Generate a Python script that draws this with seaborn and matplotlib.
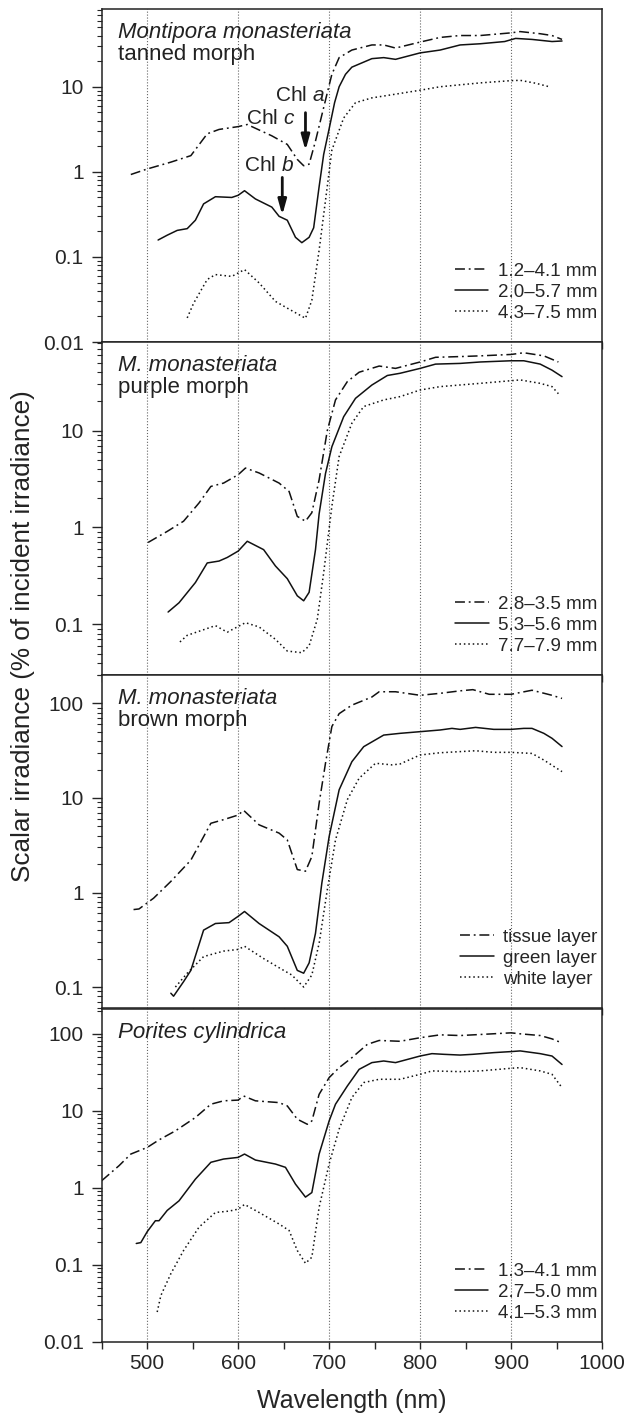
import numpy as np
import pandas as pd
import matplotlib
matplotlib.use("Agg")
import matplotlib.pyplot as plt
import matplotlib.ticker as mticker
import seaborn as sns

# wavelengths (nm) and scalar irradiance (% of incident)
# panel 1: Montipora monasteriata, tanned morph
tan_a_wl = [482, 500, 526, 548, 566, 579, 600, 610, 637, 654, 665, 672, 678, 685, 694, 703, 711, 725, 747, 760, 773, 800, 822, 844, 866, 900, 910, 932, 945, 956]
tan_a = [0.93, 1.08, 1.3, 1.55, 2.8, 3.15, 3.4, 3.6, 2.65, 2.1, 1.4, 1.18, 1.23, 2.3, 5.7, 14, 22, 27, 31, 31, 28.5, 33.5, 38, 40, 40, 43, 44.5, 42, 40, 36]
tan_b_wl = [512, 522, 533, 544, 553, 562, 575, 593, 600, 607, 619, 637, 645, 654, 663, 670, 678, 683, 689, 694, 700, 706, 711, 718, 725, 747, 760, 773, 800, 822, 844, 866, 893, 905, 923, 945, 956]
tan_b = [0.158, 0.18, 0.205, 0.215, 0.27, 0.42, 0.51, 0.5, 0.53, 0.6, 0.48, 0.385, 0.3, 0.27, 0.17, 0.147, 0.17, 0.22, 0.67, 1.6, 3.2, 6.5, 10, 14, 17, 21.4, 22, 21, 25, 27, 31, 32, 34, 37, 36, 34, 34.5]
tan_c_wl = [544, 551, 566, 575, 593, 607, 623, 641, 654, 674, 681, 689, 696, 703, 716, 729, 747, 764, 800, 822, 866, 900, 910, 927, 942]
tan_c = [0.0192, 0.0285, 0.0543, 0.062, 0.059, 0.071, 0.0495, 0.030, 0.025, 0.019, 0.031, 0.12, 0.46, 1.8, 4.3, 6.5, 7.4, 7.9, 9.1, 10, 11.1, 11.8, 11.9, 11, 10]

# panel 2: M. monasteriata, purple morph
pur_a_wl = [501, 522, 540, 557, 570, 584, 600, 608, 623, 645, 656, 665, 674, 681, 689, 698, 707, 720, 733, 755, 773, 800, 817, 844, 866, 900, 914, 936, 952]
pur_a = [0.70, 0.91, 1.16, 1.79, 2.65, 2.87, 3.5, 4.1, 3.65, 2.87, 2.35, 1.3, 1.16, 1.42, 3.1, 10, 20.7, 32, 40, 46.3, 43.8, 51, 57, 58, 59, 61, 63.5, 59, 51]
pur_b_wl = [523, 535, 553, 566, 579, 588, 600, 610, 628, 641, 654, 665, 672, 678, 685, 689, 696, 703, 716, 729, 747, 764, 778, 800, 817, 844, 866, 900, 914, 932, 945, 956]
pur_b = [0.134, 0.167, 0.27, 0.43, 0.45, 0.49, 0.57, 0.72, 0.59, 0.40, 0.296, 0.197, 0.175, 0.214, 0.59, 1.38, 3.6, 6.8, 13.9, 21.5, 29.5, 37, 39, 43.8, 48.5, 49.3, 51, 52.5, 52.5, 48.5, 42, 36]
pur_c_wl = [536, 544, 562, 575, 588, 608, 623, 641, 654, 670, 678, 687, 694, 703, 711, 725, 738, 760, 778, 800, 822, 866, 900, 910, 932, 945, 952]
pur_c = [0.0658, 0.077, 0.088, 0.097, 0.083, 0.104, 0.094, 0.070, 0.053, 0.051, 0.060, 0.113, 0.34, 1.65, 5.4, 11.9, 17.7, 20.7, 22.4, 26.2, 28.4, 30.7, 32.7, 33.3, 30.7, 28.4, 24]

# panel 3: M. monasteriata, brown morph
brn_a_wl = [485, 491, 507, 526, 548, 570, 584, 600, 606, 623, 645, 654, 665, 674, 681, 689, 696, 703, 711, 725, 747, 755, 773, 800, 822, 844, 858, 876, 900, 923, 945, 956]
brn_a = [0.66, 0.67, 0.87, 1.31, 2.2, 5.4, 5.9, 6.6, 7.4, 5.2, 4.25, 3.6, 1.75, 1.68, 2.4, 8.8, 23.3, 57, 78, 96, 117, 133, 133, 122, 128, 136, 140, 125, 125, 138, 122, 113]
brn_b_wl = [526, 529, 540, 548, 562, 575, 590, 600, 607, 623, 645, 654, 665, 672, 678, 685, 692, 700, 711, 725, 738, 760, 778, 800, 822, 835, 844, 861, 881, 900, 914, 923, 936, 945, 956]
brn_b = [0.086, 0.08, 0.114, 0.15, 0.40, 0.47, 0.48, 0.56, 0.63, 0.47, 0.34, 0.27, 0.15, 0.14, 0.18, 0.37, 1.26, 3.9, 12.2, 24.2, 34.9, 46.3, 48.3, 50.3, 52.4, 54.5, 53.2, 55.8, 53.2, 53.2, 54.5, 54.5, 48.3, 42.8, 35]
brn_c_wl = [531, 544, 562, 584, 600, 607, 628, 645, 659, 672, 681, 689, 698, 707, 720, 733, 751, 769, 778, 800, 822, 861, 881, 900, 923, 936, 956]
brn_c = [0.10, 0.14, 0.21, 0.24, 0.25, 0.27, 0.20, 0.16, 0.134, 0.10, 0.134, 0.29, 1.07, 3.6, 9.6, 16.2, 23.3, 22.4, 22.9, 28.5, 30.1, 31.6, 30.4, 30.4, 29.6, 25.2, 19]

# panel 4: Porites cylindrica
por_a_wl = [450, 469, 482, 500, 513, 531, 553, 570, 584, 600, 606, 619, 645, 654, 665, 676, 681, 689, 700, 711, 725, 742, 755, 778, 800, 822, 844, 866, 900, 910, 932, 945, 956]
por_a = [1.24, 1.94, 2.75, 3.35, 4.2, 5.5, 8.2, 12.2, 13.5, 13.8, 15.6, 13.5, 12.8, 11.6, 7.8, 6.7, 7.4, 16.4, 27.0, 36.4, 49, 73, 82, 80, 89, 97, 95, 98, 103, 100, 95, 86, 76]
por_b_wl = [488, 493, 500, 509, 513, 522, 535, 553, 570, 584, 600, 607, 619, 641, 652, 663, 674, 681, 689, 700, 707, 720, 733, 747, 760, 773, 800, 813, 826, 844, 858, 881, 900, 910, 932, 945, 956]
por_b = [0.19, 0.195, 0.27, 0.375, 0.375, 0.51, 0.68, 1.3, 2.15, 2.37, 2.49, 2.75, 2.3, 2.04, 1.85, 1.12, 0.76, 0.87, 2.75, 7.4, 12.2, 21, 34.6, 42.3, 44.4, 42.3, 51.5, 55.3, 54.2, 53, 54.2, 57, 58.8, 60, 55.3, 51.5, 40]
por_c_wl = [511, 515, 526, 540, 557, 575, 590, 600, 607, 623, 645, 656, 665, 674, 681, 689, 700, 711, 725, 738, 755, 778, 800, 813, 844, 866, 900, 910, 932, 945, 956]
por_c = [0.0245, 0.04, 0.077, 0.154, 0.31, 0.48, 0.50, 0.53, 0.61, 0.48, 0.34, 0.28, 0.154, 0.105, 0.126, 0.56, 2.05, 5.8, 14.9, 23.3, 25.7, 25.7, 29.8, 33, 32.3, 33, 35.7, 36.4, 33, 29.8, 20]

tan_labels = ["1.2–4.1 mm", "2.0–5.7 mm", "4.3–7.5 mm"]
pur_labels = ["2.8–3.5 mm", "5.3–5.6 mm", "7.7–7.9 mm"]
brn_labels = ["tissue layer", "green layer", "white layer"]
por_labels = ["1.3–4.1 mm", "2.7–5.0 mm", "4.1–5.3 mm"]

sns.set_style("ticks")
plt.rcParams['font.family'] = ['Liberation Sans', 'DejaVu Sans']
plt.rcParams['mathtext.fontset'] = 'custom'
plt.rcParams['mathtext.rm'] = 'Liberation Sans'
plt.rcParams['mathtext.it'] = 'Liberation Sans:italic'
plt.rcParams['axes.linewidth'] = 1.1

# dash-dot, solid, dotted
styles = [(0, (6.5, 2.5, 1.2, 2.5)), '-', (0, (1, 1.9))]

panels = [
    dict(series=[(tan_a_wl, tan_a), (tan_b_wl, tan_b), (tan_c_wl, tan_c)], labels=tan_labels,
         ylim=(0.01, 82), sp="Montipora monasteriata", morph="tanned morph"),
    dict(series=[(pur_a_wl, pur_a), (pur_b_wl, pur_b), (pur_c_wl, pur_c)], labels=pur_labels,
         ylim=(0.03, 82), sp="M. monasteriata", morph="purple morph"),
    dict(series=[(brn_a_wl, brn_a), (brn_b_wl, brn_b), (brn_c_wl, brn_c)], labels=brn_labels,
         ylim=(0.06, 200), sp="M. monasteriata", morph="brown morph"),
    dict(series=[(por_a_wl, por_a), (por_b_wl, por_b), (por_c_wl, por_c)], labels=por_labels,
         ylim=(0.01, 210), sp="Porites cylindrica", morph=None),
]

fig = plt.figure(figsize=(6.27, 14.13), dpi=100)
left, width = 0.1622, 0.798
bottoms = [0.75796, 0.52229, 0.28662, 0.05025]
height = 0.23567

axes = []
for i, p in enumerate(panels):
    ax = fig.add_axes([left, bottoms[i], width, height])
    axes.append(ax)
    for (wl, val), lab, ls in zip(p["series"], p["labels"], styles):
        df = pd.DataFrame({"wl": wl, "val": val})
        sns.lineplot(data=df, x="wl", y="val", ax=ax, color="#111111", lw=1.1,
                     linestyle=ls, label=lab, errorbar=None)
    ax.set_yscale("log")
    ax.set_ylim(*p["ylim"])
    ax.set_xlim(450, 1000)
    ax.xaxis.set_major_locator(mticker.MultipleLocator(100))
    ax.xaxis.set_minor_locator(mticker.MultipleLocator(50))
    ax.yaxis.set_major_locator(mticker.LogLocator(base=10, numticks=10))
    ax.yaxis.set_minor_locator(mticker.LogLocator(base=10, subs=np.arange(2, 10), numticks=10))
    ax.yaxis.set_major_formatter(mticker.FuncFormatter(lambda v, pos: "%g" % v))
    ax.yaxis.set_minor_formatter(mticker.NullFormatter())
    ax.tick_params(axis="x", which="both", direction="out", length=5, width=1, labelsize=15)
    ax.tick_params(axis="y", which="major", direction="out", length=7, width=1, pad=6, labelsize=15)
    ax.tick_params(axis="y", which="minor", direction="out", length=3.5, width=0.8)
    ax.grid(axis="x", which="major", ls=":", color="0.4", lw=0.8)
    for s in ax.spines.values():
        s.set_visible(True)
        s.set_color("#222222")
    ax.set_ylabel("")
    ax.set_xlabel("")
    if i < 3:
        ax.tick_params(axis="x", labelbottom=False)
    ax.text(0.033, 0.929, p["sp"], transform=ax.transAxes, fontsize=16, style="italic",
            va="center", ha="left", color="#222222")
    if p["morph"]:
        ax.text(0.033, 0.864, p["morph"], transform=ax.transAxes, fontsize=16,
                va="center", ha="left", color="#222222")
    ax.legend(loc="lower right", bbox_to_anchor=(1.0, 0.047), frameon=False, fontsize=13.5,
              handlelength=1.8, handletextpad=0.5, labelspacing=0.2, borderaxespad=0,
              borderpad=0.25)

# pigment absorption markers in the top panel
ax0 = axes[0]
arrow = dict(arrowstyle="-|>,head_length=0.9,head_width=0.25", color="#111111", lw=2,
             shrinkA=0, shrinkB=0)
ax0.annotate("", xy=(674, 1.78), xytext=(674, 4.96), arrowprops=arrow)
ax0.annotate("", xy=(648.5, 0.31), xytext=(648.5, 0.86), arrowprops=arrow)
ax0.text(695, 7.8, "Chl $\\mathit{a}$", fontsize=15, ha="right", va="center", color="#222222")
ax0.text(663, 4.2, "Chl $\\mathit{c}$", fontsize=15, ha="right", va="center", color="#222222")
ax0.text(662, 1.19, "Chl $\\mathit{b}$", fontsize=15, ha="right", va="center", color="#222222")

axes[3].set_xlabel("Wavelength (nm)", fontsize=18, labelpad=12)
fig.text(0.037, 0.55, "Scalar irradiance (% of incident irradiance)", rotation=90,
         fontsize=18.8, ha="center", va="center", color="#222222")

fig.savefig("out.png", dpi=100)
